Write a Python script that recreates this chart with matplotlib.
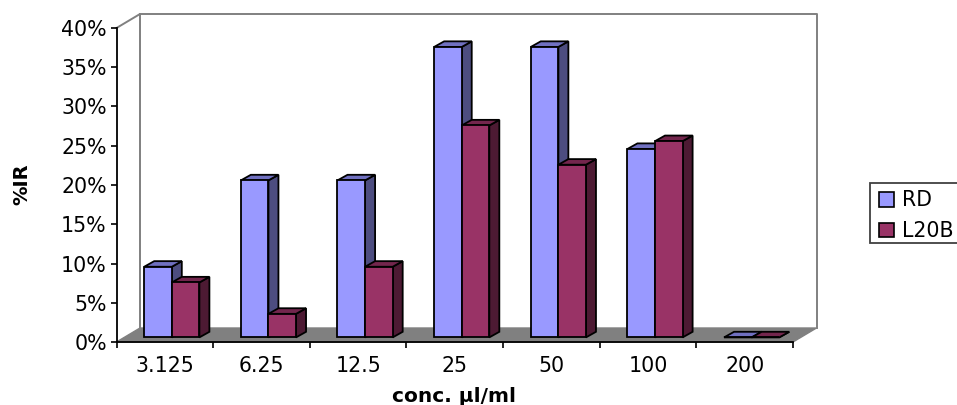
import matplotlib
matplotlib.use("Agg")
import matplotlib.pyplot as plt
from matplotlib.patches import Polygon, Patch, Rectangle

categories = ["3.125", "6.25", "12.5", "25", "50", "100", "200"]
rd = [9, 20, 20, 37, 37, 24, 0]
l20b = [7, 3, 9, 27, 22, 25, 0]
yticks = [0, 5, 10, 15, 20, 25, 30, 35, 40]
series_names = ["RD", "L20B"]

W, H = 957, 405
plt.rcParams['font.family'] = ['DejaVu Sans']
FS = 14.8

fig = plt.figure(figsize=(W / 100, H / 100), dpi=100, facecolor="white")
L, R, T, B = 116.5, 793, 28, 342
ax = fig.add_axes([L / W, 1 - B / H, (R - L) / W, (B - T) / H])
ax.set_xlim(0, len(categories))
ax.set_ylim(0, 40)
ux = (R - L) / len(categories)
uy = (B - T) / 40
wall_dx, wall_dy = 23.5 / ux, 14 / uy
off_y = 4.6 / uy
bar_dx, bar_dy = 10 / ux, 5.6 / uy
bw = 27.6 / ux
start = (144.2 - L) / ux
n = len(categories)

# floor and walls
ax.add_patch(Polygon([(0, 0), (n, 0), (n + wall_dx, wall_dy), (wall_dx, wall_dy)],
                     closed=True, fc="#808080", ec="#808080", lw=1, clip_on=False, zorder=1))
ax.plot([0, wall_dx, wall_dx], [40, 40 + wall_dy, wall_dy], color="#808080", lw=1.4, clip_on=False, zorder=1)
ax.plot([wall_dx, n + wall_dx, n + wall_dx], [40 + wall_dy, 40 + wall_dy, wall_dy],
        color="#808080", lw=1.4, clip_on=False, zorder=1)


def bar3d(x, v, front, side, top, z):
    kw = dict(closed=True, ec="black", lw=1.3, clip_on=False, zorder=z, joinstyle="miter")
    y0 = off_y
    ax.add_patch(Polygon([(x + bw, y0), (x + bw + bar_dx, y0 + bar_dy),
                          (x + bw + bar_dx, y0 + v + bar_dy), (x + bw, y0 + v)], fc=side, **kw))
    ax.add_patch(Polygon([(x, y0 + v), (x + bw, y0 + v),
                          (x + bw + bar_dx, y0 + v + bar_dy), (x + bar_dx, y0 + v + bar_dy)], fc=top, **kw))
    ax.add_patch(Polygon([(x, y0), (x + bw, y0), (x + bw, y0 + v), (x, y0 + v)], fc=front, **kw))


for i in range(n):
    x0 = i + start
    bar3d(x0, rd[i], "#9999FF", "#4D4D80", "#7070C0", 3 + i)
    bar3d(x0 + bw, l20b[i], "#993366", "#4D1A33", "#73264D", 3.5 + i)

for s in ("top", "right"):
    ax.spines[s].set_visible(False)
for s in ("left", "bottom"):
    ax.spines[s].set_linewidth(1.3)
    ax.spines[s].set_zorder(20)
ax.patch.set_alpha(0)

ax.set_yticks(yticks)
ax.set_yticklabels([f"{v}%" for v in yticks], fontsize=FS)
ax.set_xticks(range(n + 1))
ax.set_xticklabels([])
ax.set_xticks([i + 0.5 for i in range(n)], minor=True)
ax.set_xticklabels(categories, minor=True, fontsize=FS)
ax.tick_params(axis="x", which="minor", length=0, pad=10)
ax.tick_params(axis="x", which="major", length=4, width=1.2, direction="out")
ax.tick_params(axis="y", length=4, width=1.2, pad=3)

fig.text(22 / W, 1 - 184 / H, "%IR", rotation=90, ha="center", va="center",
         fontsize=14, fontweight="bold")
fig.text(454 / W, 1 - 396 / H, "conc. µl/ml", ha="center", va="center",
         fontsize=14.5, fontweight="bold")

fig.add_artist(Rectangle((869.5 / W, 1 - 243 / H), 100 / W, 60 / H, transform=fig.transFigure,
                         fc="white", ec="#404040", lw=1.3))
handles = [Patch(fc="#9999FF", ec="black", lw=1.2), Patch(fc="#993366", ec="black", lw=1.2)]
leg = fig.legend(handles, series_names, loc="upper left", bbox_to_anchor=(879 / W, 1 - 190.5 / H),
                 fontsize=FS, frameon=False,
                 handlelength=0.74, handleheight=0.74, handletextpad=0.4,
                 borderpad=0, labelspacing=0.52, borderaxespad=0)

fig.savefig("out.png", dpi=100, facecolor="white")
